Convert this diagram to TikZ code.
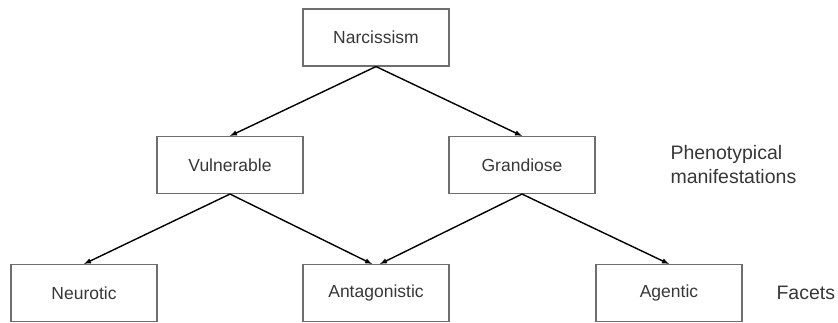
\documentclass[tikz,border=0pt]{standalone}
\usepackage{fontspec}
\setmainfont{Liberation Sans}
\usetikzlibrary{arrows}
\definecolor{boxline}{RGB}{110,110,110}
\definecolor{txt}{RGB}{55,55,55}
\tikzset{
  trait/.style={draw=boxline, line width=1.1pt, minimum width=146pt, minimum height=57pt,
    inner sep=0pt, text=txt, font=\fontsize{17.5}{20}\selectfont},
  tier/.style={anchor=west, align=left, text=txt, font=\fontsize{19.5}{24}\selectfont},
  link/.style={-latex, line width=1.4pt, black}
}

\begin{document}
\begin{tikzpicture}[x=1pt,y=-1pt]
\useasboundingbox (0,0) rectangle (838,323);

\node[trait] (narc) at (376,37.5) {Narcissism};
\node[trait] (vuln) at (230,165) {Vulnerable};
\node[trait] (gran) at (522,165) {Grandiose};
\node[trait] (neur) at (84,293) {Neurotic};
\node[trait] (anta) at (376,293) {Antagonistic};
\node[trait] (agen) at (669,293) {Agentic};

\node[tier] (pheno) at (667,165) {Phenotypical\\manifestations};
\node[tier] (facet) at (773,293) {Facets};

\draw[link] (narc.south) -- (vuln.north);
\draw[link] (narc.south) -- (gran.north);
\draw[link] (vuln.south) -- (neur.north);
\draw[link] (vuln.south) -- ([xshift=-4pt]anta.north);
\draw[link] (gran.south) -- ([xshift=4pt]anta.north);
\draw[link] (gran.south) -- (agen.north);

\end{tikzpicture}
\end{document}
